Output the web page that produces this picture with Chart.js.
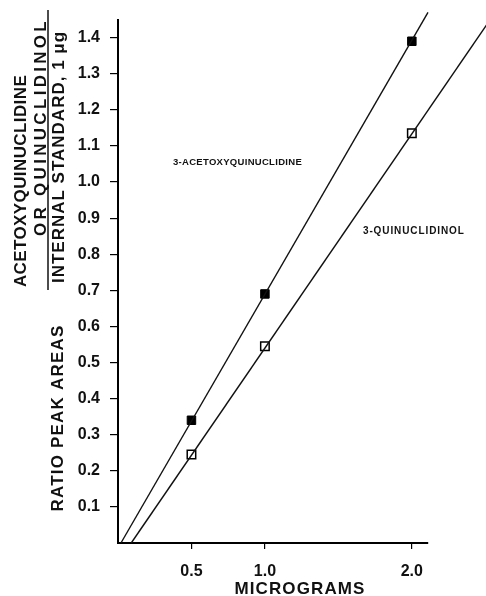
<!DOCTYPE html>
<html>
<head>
<meta charset="utf-8">
<script src="https://cdn.jsdelivr.net/npm/chart.js@4/dist/chart.umd.min.js"></script>
<style>
  body { margin: 0; background: #fff; }
  #wrap { width: 486px; height: 596px; position: relative; }
</style>
</head>
<body>
<div id="wrap"><canvas id="myChart"></canvas></div>
<script>
// values
let micrograms = [0.5, 1.0, 2.0]
let acetoxy = [0.34, 0.69, 1.39]
let quinuclidinol = [0.245, 0.545, 1.135]

// fitted lines (ends)
let acetoxyFitX = [0.02, 2.11]
let acetoxyFitY = [0, 1.47]
let quinFitX = [0.09, 2.55]
let quinFitY = [0, 1.46]

let xTicks = [0.5, 1.0, 2.0]
let yTicks = [0.1, 0.2, 0.3, 0.4, 0.5, 0.6, 0.7, 0.8, 0.9, 1.0, 1.1, 1.2, 1.3, 1.4]

const FONT = '"Liberation Sans", Arial, sans-serif'
const INK = '#111'

function pts(xs, ys) {
    return xs.map((x, i) => ({x: x, y: ys[i]}))
}

// axis titles and curve labels
const textPlugin = {
    id: 'texts',
    afterDraw(chart) {
        const ctx = chart.ctx
        const xs = chart.scales.x, ys = chart.scales.y
        ctx.save()
        ctx.fillStyle = INK
        ctx.textBaseline = 'middle'
        ctx.textAlign = 'center'

        function vtext(str, x, y, spacing) {
            ctx.save()
            ctx.translate(x, y)
            ctx.rotate(-Math.PI / 2)
            ctx.letterSpacing = spacing + 'px'
            ctx.fillText(str, 0, 0)
            ctx.restore()
        }
        ctx.font = 'bold 17px ' + FONT
        vtext('ACETOXYQUINUCLIDINE', 21, 181, 0.4)
        vtext('OR QUINUCLIDINOL', 41, 127, 3.3)
        vtext('INTERNAL STANDARD, 1 \u03bcg', 59, 157, 1)
        vtext('RATIO PEAK AREAS', 58, 418, 1.2)
        ctx.strokeStyle = INK
        ctx.lineWidth = 1.5
        ctx.beginPath()
        ctx.moveTo(48, 10)
        ctx.lineTo(48, 290)
        ctx.stroke()

        ctx.letterSpacing = '1.1px'
        ctx.fillText('MICROGRAMS', 300, 589)

        ctx.letterSpacing = '0.3px'
        ctx.textAlign = 'left'
        ctx.font = 'bold 9.5px ' + FONT
        ctx.fillText('3-ACETOXYQUINUCLIDINE', xs.getPixelForValue(0.374), ys.getPixelForValue(1.055))
        ctx.letterSpacing = '0.9px'
        ctx.font = 'bold 10px ' + FONT
        ctx.fillText('3-QUINUCLIDINOL', xs.getPixelForValue(1.667), ys.getPixelForValue(0.865))
        ctx.restore()
    }
}

const data = {
    datasets: [{
        label: '3-Acetoxyquinuclidine fit',
        data: pts(acetoxyFitX, acetoxyFitY),
        showLine: true,
        borderColor: INK,
        borderWidth: 1.4,
        pointRadius: 0,
        clip: false
    }, {
        label: '3-Quinuclidinol fit',
        data: pts(quinFitX, quinFitY),
        showLine: true,
        borderColor: INK,
        borderWidth: 1.4,
        pointRadius: 0,
        clip: false
    }, {
        label: '3-Acetoxyquinuclidine',
        data: pts(micrograms, acetoxy),
        pointStyle: 'rect',
        pointRadius: 6,
        backgroundColor: '#000',
        borderColor: '#000',
        borderWidth: 1
    }, {
        label: '3-Quinuclidinol',
        data: pts(micrograms, quinuclidinol),
        pointStyle: 'rect',
        pointRadius: 6,
        backgroundColor: '#fff',
        borderColor: '#000',
        borderWidth: 1.5
    }]
}

const config = {
    type: 'scatter',
    data: data,
    plugins: [textPlugin],
    options: {
        responsive: true,
        maintainAspectRatio: false,
        animation: false,
        layout: {padding: {top: 17, right: 58, left: 0, bottom: 0}},
        plugins: {legend: {display: false}, tooltip: {enabled: false}},
        scales: {
            x: {
                type: 'linear',
                min: 0,
                max: 2.11,
                afterBuildTicks: (s) => { s.ticks = xTicks.map(v => ({value: v})) },
                afterFit: (s) => { s.height = 53 },
                border: {color: '#000', width: 2},
                grid: {drawOnChartArea: false, tickLength: 6, color: '#000', lineWidth: 1.2},
                ticks: {
                    color: INK,
                    padding: 13,
                    maxRotation: 0,
                    font: {family: FONT, size: 16, weight: 'bold'},
                    callback: (v) => Number(v).toFixed(1)
                }
            },
            y: {
                type: 'linear',
                min: 0,
                max: 1.45,
                afterBuildTicks: (s) => { s.ticks = yTicks.map(v => ({value: v})) },
                afterFit: (s) => { s.width = 118 },
                border: {color: '#000', width: 2},
                grid: {drawOnChartArea: false, tickLength: 8, color: '#000', lineWidth: 1.2},
                ticks: {
                    color: INK,
                    padding: 10,
                    font: {family: FONT, size: 16, weight: 'bold'},
                    callback: (v) => Number(v).toFixed(1)
                }
            }
        }
    }
}

var ctx = document.getElementById('myChart')
var newmychart = new Chart(ctx, config)
</script>
</body>
</html>
